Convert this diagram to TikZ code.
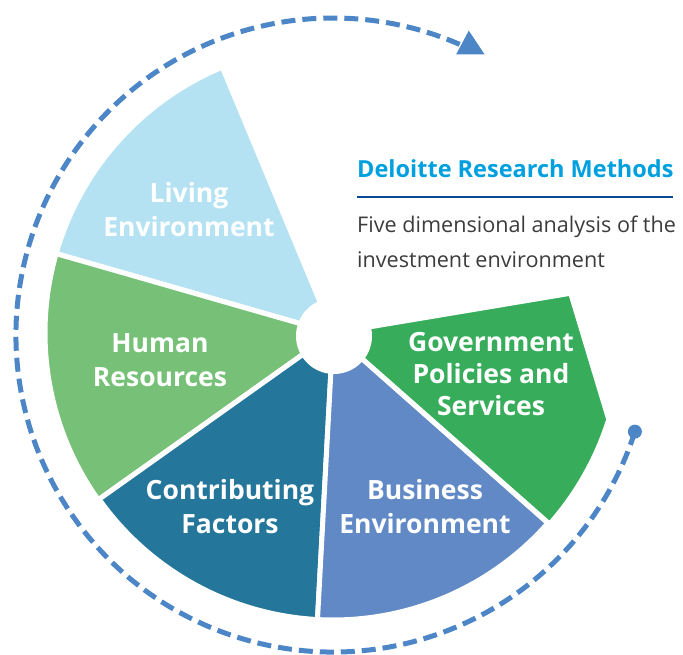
\documentclass[tikz,border=0pt]{standalone}
\usepackage{fontspec}
\setmainfont{Open Sans}
\usepackage{xcolor}
\usetikzlibrary{arrows.meta, positioning}
\definecolor{livblue}{RGB}{180, 226, 242}
\definecolor{humgreen}{RGB}{118, 193, 119}
\definecolor{conteal}{RGB}{36, 118, 155}
\definecolor{busblue}{RGB}{96, 137, 198}
\definecolor{govgreen}{RGB}{55, 173, 91}
\definecolor{dashblue}{RGB}{77, 134, 199}
\definecolor{titlecyan}{RGB}{0, 160, 222}
\definecolor{ruleblue}{RGB}{10, 72, 150}
\definecolor{descgray}{RGB}{60, 60, 60}

\begin{document}
\begin{tikzpicture}[
  x=1pt, y=1pt,
  wedge/.style={draw=white, line width=5pt, line join=round},
  lbl/.style={text=white, align=center, inner sep=0pt,
              font=\bfseries\fontsize{26.5}{34}\selectfont},
  desc/.style={anchor=base west, inner sep=0pt, text=descgray,
               font=\fontsize{21.6}{26}\selectfont},
  dashline/.style={draw=dashblue, line width=5pt,
                   dash pattern=on 14pt off 7pt}
]
  \useasboundingbox (-333,-322) rectangle (350,333);
  \coordinate (pc) at (0,0);

  % five wedges of the pie
  \filldraw[wedge, fill=livblue] (pc) -- (112.6:288)
    arc[start angle=112.6, end angle=164, radius=288] -- cycle;
  \filldraw[wedge, fill=humgreen] (pc) -- (164:288)
    arc[start angle=164, end angle=215.4, radius=288] -- cycle;
  \filldraw[wedge, fill=conteal] (pc) -- (215.4:287)
    arc[start angle=215.4, end angle=266.9, radius=287] -- cycle;
  \filldraw[wedge, fill=busblue] (pc) -- (266.9:287)
    arc[start angle=266.9, end angle=318.5, radius=287] -- cycle;
  \filldraw[wedge, fill=govgreen] (pc) -- (9.5:241) -- (-17.4:289)
    arc[start angle=-17.4, end angle=-41.5, radius=288] -- cycle;
  \fill[white] (1,-3) circle[radius=38];

  % dashed cycle arrow with its head and start dot
  \draw[dashline] (0,-2) ++(-17.75:317)
    arc[start angle=-17.75, end angle=-294, radius=317];
  \fill[dashblue, shift={(0,-2)}, rotate=62]
    (319,-2) -- (332.5,23) -- (305.5,23) -- cycle;
  \fill[dashblue] (0,-2) ++(-17.75:317) circle[radius=7];

  \node[lbl] (living) at (-144,123) {Living\\Environment};
  \node[lbl] (human) at (-173,-27) {Human\\Resources};
  \node[lbl] (contrib) at (-103,-174) {Contributing\\Factors};
  \node[lbl] (business) at (92,-174) {Business\\Environment};
  \node[lbl, font=\bfseries\fontsize{26.5}{32}\selectfont] (gov) at (158,-41)
    {Government\\Policies and\\Services};

  % heading on the right
  \node[anchor=base west, inner sep=0pt, text=titlecyan,
        font=\bfseries\fontsize{23.5}{28}\selectfont] (title) at (24,155)
    {Deloitte Research Methods};
  \draw[ruleblue, line width=2.5pt] (24,136) -- (340,136);
  \node[desc] (desc1) at (24,100) {Five dimensional analysis of the};
  \node[desc] (desc2) at ([yshift=-35pt]desc1.base west) {investment environment};

\end{tikzpicture}
\end{document}
